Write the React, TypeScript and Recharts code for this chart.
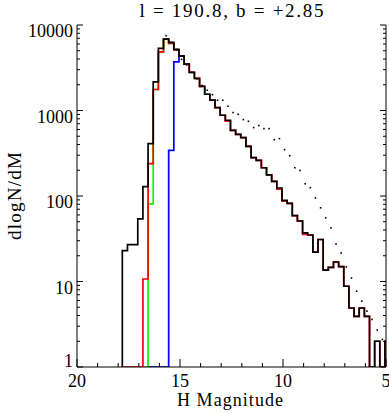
import { ComposedChart, Line, XAxis, YAxis } from 'recharts';

// layout of the IDL-style frame (page pixels)
const W = 389;
const H = 414;
const LEFT = 77;
const RIGHT = 386;
const TOP = 25;
const BOTTOM = 367;
const FONT = '"Liberation Serif", "DejaVu Serif", serif';

// histogram bins: 0.25 mag wide, first bin starts at H = 17.8 and runs brightward
const FIRST_EDGE = 17.8;
const BIN = 0.25;

// all stars (black)
const allCounts = [
  23, 27, 27, 54, 129, 410, 2160, 5330, 6850, 6270, 5180, 4330, 3490, 2790, 2370, 1920,
  1550, 1320, 1080, 880, 769, 587, 526, 482, 381, 281, 261, 214, 177, 148, 124, 89, 82,
  59, 51, 37, 35, 22, 31, 13.6, 14.6, 16.9, 14.9, 8.8, 4.9, 3.9, 4.9, 3.9, 1, 2, 1, 2,
];
// red, starts at bin 0
const redCounts = [
  1, 1, 1, 1, 10.7, 239, 1760, 4860, 6850, 6100, 5100, 4330, 3490, 2790, 2370, 1920,
  1550, 1320, 1080, 880, 750, 587, 526, 482, 381, 281, 261, 214, 177, 148, 120, 87, 82,
  59, 51, 35.6, 35, 22, 31, 13.6, 14.6, 16.9, 14.9, 8.8, 4.9, 3.9, 4.9, 3.9, 1, 2, 1, 2,
];
// green, starts at bin 4
const greenCounts = [1, 81, 1760, 4860, 6850, 6100, 5100];
// blue, starts at bin 5
const blueCounts = [1, 1, 1, 1, 342, 3710, 4330];
// dotted model, one point per bin centre, starts at bin 8
const modelCounts = [
  7500, 6270, 5180, 3960, 3400, 2800, 2345, 1962, 1729, 1530, 1318, 1318, 1122, 946, 903,
  783, 748, 631, 666, 614, 614, 456, 469, 348, 296, 214, 199, 139, 125, 95, 72.7, 55.5,
  42.4, 27.5, 21.6, 14.8, 11.0, 7.7, 5.9, 4.5, 3.6, 2.7, 2.1,
];

const xTicks = [5, 6, 7, 8, 9, 10, 11, 12, 13, 14, 15, 16, 17, 18, 19, 20];
const xLabels = [20, 15, 10, 5];
const yTicks = [
  1, 2, 3, 4, 5, 6, 7, 8, 9,
  10, 20, 30, 40, 50, 60, 70, 80, 90,
  100, 200, 300, 400, 500, 600, 700, 800, 900,
  1000, 2000, 3000, 4000, 5000, 6000, 7000, 8000, 9000,
  10000,
];
const yLabels = [1, 10, 100, 1000, 10000];

const steps = (first: number, counts: number[]) => {
  const pts: { m: number; v: number }[] = [];
  counts.forEach((v, k) => {
    const hi = FIRST_EDGE - (first + k) * BIN;
    if (k === 0) pts.push({ m: hi, v: 1 });
    pts.push({ m: hi, v }, { m: hi - BIN, v });
  });
  return pts;
};

const centres = (first: number, counts: number[]) =>
  counts.map((v, k) => ({ m: FIRST_EDGE - (first + k + 0.5) * BIN, v }));

const BottomTick = (p: any) => {
  const v = p.payload.value;
  const major = xLabels.includes(v);
  return (
    <g>
      <line x1={p.x} x2={p.x} y1={BOTTOM} y2={BOTTOM - (major ? 8 : 4)} stroke="#000" />
      {major && (
        <text x={p.x} y={387} textAnchor="middle" fontSize={18} fontFamily={FONT} fill="#000">
          {v}
        </text>
      )}
    </g>
  );
};

const TopTick = (p: any) => {
  const major = xLabels.includes(p.payload.value);
  return <line x1={p.x} x2={p.x} y1={TOP} y2={TOP + (major ? 8 : 4)} stroke="#000" />;
};

const LeftTick = (p: any) => {
  const v = p.payload.value;
  const major = yLabels.includes(v);
  return (
    <g>
      <line x1={LEFT} x2={LEFT + (major ? 6 : 3)} y1={p.y} y2={p.y} stroke="#000" />
      {major && (
        <text x={73} y={p.y + (v === 1 ? 0 : 12)} textAnchor="end" fontSize={18} fontFamily={FONT} fill="#000">
          {v}
        </text>
      )}
    </g>
  );
};

const RightTick = (p: any) => {
  const major = yLabels.includes(p.payload.value);
  return <line x1={RIGHT} x2={RIGHT - (major ? 6 : 3)} y1={p.y} y2={p.y} stroke="#000" />;
};

const Speck = (p: any) =>
  p.cx == null || p.cy == null ? null : (
    <rect key={p.index} x={p.cx - 0.8} y={p.cy - 0.8} width={1.6} height={1.6} fill="#000" />
  );

export default function App() {
  return (
    <div style={{ position: 'absolute', left: 0, top: 0, width: W, height: H, background: '#fff' }}>
      <ComposedChart
        width={W}
        height={H}
        margin={{ top: TOP, right: 0, bottom: 0, left: 0 }}
      >
        <XAxis
          type="number"
          dataKey="m"
          domain={[5, 20]}
          reversed
          allowDataOverflow
          ticks={xTicks}
          interval={0}
          height={H - BOTTOM}
          tickLine={false}
          axisLine={{ stroke: '#000' }}
          tick={(p: any) => <BottomTick {...p} />}
        />
        <XAxis
          xAxisId="top"
          orientation="top"
          type="number"
          dataKey="m"
          domain={[5, 20]}
          reversed
          allowDataOverflow
          ticks={xTicks}
          interval={0}
          height={0}
          tickLine={false}
          axisLine={{ stroke: '#000' }}
          tick={(p: any) => <TopTick {...p} />}
        />
        <YAxis
          type="number"
          dataKey="v"
          scale="log"
          domain={[1, 10000]}
          allowDataOverflow
          ticks={yTicks}
          interval={0}
          width={LEFT}
          tickLine={false}
          axisLine={{ stroke: '#000' }}
          tick={(p: any) => <LeftTick {...p} />}
        />
        <YAxis
          yAxisId="right"
          orientation="right"
          type="number"
          scale="log"
          domain={[1, 10000]}
          allowDataOverflow
          ticks={yTicks}
          interval={0}
          width={W - RIGHT}
          tickLine={false}
          axisLine={{ stroke: '#000' }}
          tick={(p: any) => <RightTick {...p} />}
        />
        <Line data={steps(4, greenCounts)} dataKey="v" type="linear" stroke="#00ff00" strokeWidth={1.7} dot={false} isAnimationActive={false} />
        <Line data={steps(0, redCounts)} dataKey="v" type="linear" stroke="#ff0000" strokeWidth={1.7} dot={false} isAnimationActive={false} />
        <Line data={steps(5, blueCounts)} dataKey="v" type="linear" stroke="#0000ff" strokeWidth={1.7} dot={false} isAnimationActive={false} />
        <Line data={steps(0, allCounts)} dataKey="v" type="linear" stroke="#000" strokeWidth={1.7} dot={false} isAnimationActive={false} />
        <Line data={centres(8, modelCounts)} dataKey="v" type="linear" stroke="none" dot={Speck} isAnimationActive={false} />
      </ComposedChart>
      <svg width={W} height={H} style={{ position: 'absolute', left: 0, top: 0, pointerEvents: 'none' }}>
        <text x={231.5} y={17} textAnchor="middle" fontSize={19} fontFamily={FONT} textLength={184} lengthAdjust="spacing">
          l = 190.8, b = +2.85
        </text>
        <text x={230} y={406} textAnchor="middle" fontSize={18} fontFamily={FONT} textLength={106} lengthAdjust="spacing">
          H Magnitude
        </text>
        <text
          transform={`translate(21, ${(TOP + BOTTOM) / 2}) rotate(-90)`}
          textAnchor="middle"
          fontSize={19}
          fontFamily={FONT}
          textLength={88}
          lengthAdjust="spacing"
        >
          dlogN/dM
        </text>
      </svg>
    </div>
  );
}
